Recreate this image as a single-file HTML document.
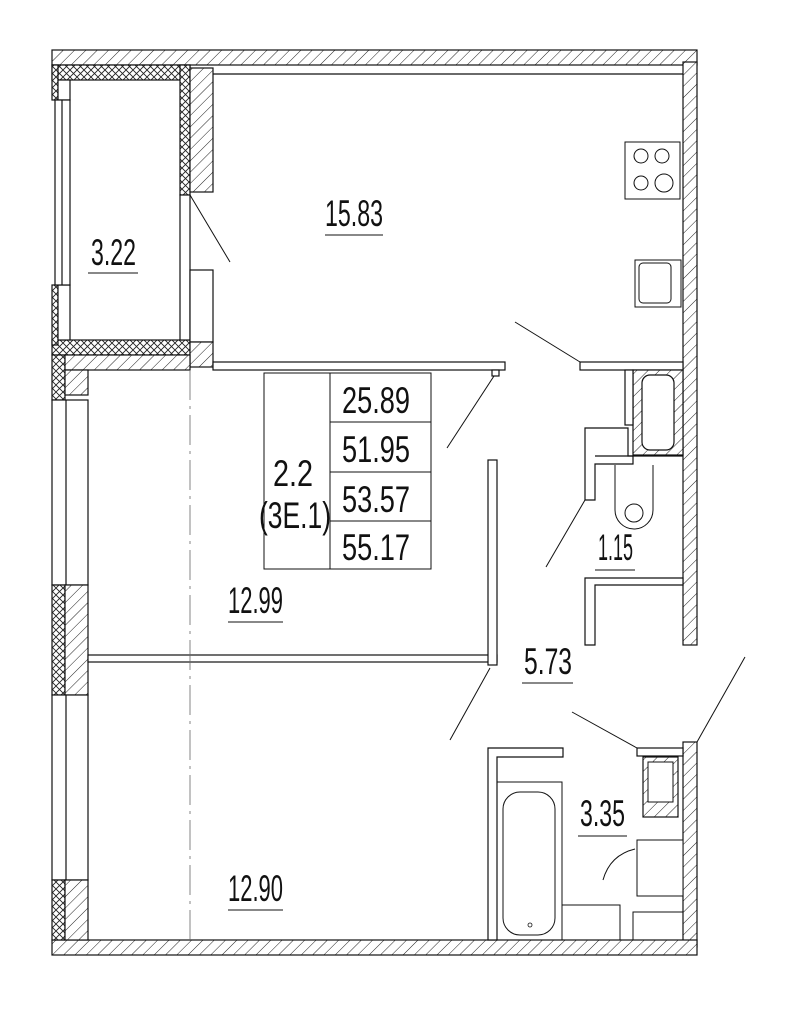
<!DOCTYPE html>
<html><head><meta charset="utf-8"><style>
html,body{margin:0;padding:0;background:#fff;}
svg{display:block;}
text{font-family:"Liberation Sans Narrow","Liberation Sans",sans-serif;font-size:37px;fill:#111;}
</style></head><body>
<svg width="800" height="1011" viewBox="0 0 800 1011" xmlns="http://www.w3.org/2000/svg">
<defs>
<pattern id="h" width="8" height="8" patternUnits="userSpaceOnUse" patternTransform="rotate(45)">
<rect width="8" height="8" fill="#fff"/><line x1="0" y1="0" x2="0" y2="8" stroke="#222" stroke-width="1"/></pattern>
<pattern id="x" width="7" height="7" patternUnits="userSpaceOnUse">
<rect width="7" height="7" fill="#fff"/><path d="M0 0L7 7M7 0L0 7" stroke="#222" stroke-width="0.9"/></pattern>
</defs>
<g stroke="#111" stroke-width="1.2">
<rect x="52" y="50" width="645" height="15" fill="url(#h)"/>
<rect x="683" y="62" width="14" height="583" fill="url(#h)"/>
<rect x="683" y="742" width="14" height="205" fill="url(#h)"/>
<rect x="52" y="940" width="645" height="15" fill="url(#h)"/>
<rect x="52" y="65" width="138" height="15" fill="url(#x)"/>
<rect x="180" y="65" width="10" height="130" fill="url(#x)"/>
<rect x="52" y="340" width="138" height="15" fill="url(#x)"/>
<rect x="52" y="65" width="6" height="35" fill="url(#x)"/>
<rect x="52" y="285" width="6" height="60" fill="url(#x)"/>
<rect x="58" y="80" width="12" height="20" fill="#fff"/>
<rect x="58" y="285" width="12" height="55" fill="#fff"/>
<rect x="55" y="100" width="15" height="185" fill="#fff"/>
<line x1="62" y1="100" x2="62" y2="285"/>
<rect x="190" y="68" width="23" height="124" fill="url(#h)"/>
<rect x="180" y="195" width="10" height="145" fill="#fff"/>
<rect x="190" y="270" width="23" height="72" fill="#fff"/>
<rect x="190" y="342" width="23" height="25" fill="url(#h)"/>
<rect x="52" y="355" width="13" height="45" fill="url(#x)"/>
<rect x="65" y="355" width="125" height="15" fill="url(#h)"/>
<rect x="65" y="370" width="23" height="25" fill="url(#h)"/>
<rect x="52" y="400" width="36" height="185" fill="#fff"/>
<line x1="66" y1="400" x2="66" y2="585"/>
<rect x="52" y="585" width="13" height="110" fill="url(#x)"/>
<rect x="65" y="585" width="23" height="110" fill="url(#h)"/>
<rect x="52" y="695" width="36" height="185" fill="#fff"/>
<line x1="66" y1="695" x2="66" y2="880"/>
<rect x="52" y="880" width="13" height="60" fill="url(#x)"/>
<rect x="65" y="880" width="23" height="60" fill="url(#h)"/>
<line x1="213" y1="74" x2="683" y2="74"/>
<rect x="213" y="362" width="292" height="8" fill="#fff"/>
<rect x="492" y="370" width="7" height="6" fill="#fff"/>
<rect x="88" y="655" width="409" height="7" fill="#fff"/>
<rect x="488" y="460" width="9" height="205" fill="#fff"/>
<rect x="580" y="362" width="103" height="8" fill="#fff"/>
<rect x="633" y="370" width="50" height="85" fill="url(#h)"/>
<rect x="642" y="375" width="32" height="75" rx="8" fill="#fff"/>
<rect x="625" y="370" width="8" height="55" fill="#fff"/>
<path d="M585 428H628V456H633V464H595V500H585Z" fill="#fff"/>
<line x1="595" y1="456" x2="683" y2="456"/>
<path d="M615 465V510A15 15 0 0 0 653 510V465" fill="none" stroke-width="1"/>
<circle cx="634" cy="513" r="9" fill="none" stroke-width="1"/>
<path d="M585 578H683V585H595V645H585Z" fill="#fff"/>
<rect x="625" y="142" width="55" height="57" fill="#fff" stroke-width="1"/>
<circle cx="641" cy="156" r="7" fill="none" stroke-width="1"/>
<circle cx="662" cy="156" r="7" fill="none" stroke-width="1"/>
<circle cx="641" cy="183" r="7" fill="none" stroke-width="1"/>
<circle cx="664" cy="183" r="9" fill="none" stroke-width="1"/>
<rect x="635" y="260" width="46" height="47" fill="#fff" stroke-width="1"/>
<rect x="639" y="263" width="32" height="40" rx="4" fill="none" stroke-width="1"/>
<path d="M488 748H563V757H497V940H488Z" fill="#fff"/>
<rect x="497" y="782" width="65" height="158" fill="none" stroke-width="1"/>
<rect x="503" y="792" width="52" height="143" rx="17" fill="none" stroke-width="1"/>
<circle cx="530" cy="925" r="2" fill="none" stroke-width="0.8"/>
<rect x="562" y="905" width="58" height="35" fill="none" stroke-width="1"/>
<rect x="637" y="748" width="46" height="8" fill="#fff"/>
<rect x="643" y="757" width="35" height="60" fill="url(#h)"/>
<rect x="648" y="762" width="25" height="40" fill="#fff" stroke-width="1"/>
<rect x="637" y="840" width="46" height="56" fill="#fff" stroke-width="1"/>
<rect x="633" y="912" width="50" height="28" fill="none" stroke-width="1"/>
<path d="M635 849Q610 855 603 880" fill="none" stroke-width="1"/>
<g stroke-width="1">
<line x1="190" y1="195" x2="230" y2="262"/>
<line x1="494" y1="376" x2="447" y2="448"/>
<line x1="515" y1="322" x2="580" y2="362"/>
<line x1="585" y1="500" x2="546" y2="567"/>
<line x1="490" y1="668" x2="450" y2="740"/>
<line x1="572" y1="712" x2="637" y2="748"/>
<line x1="745" y1="657" x2="697" y2="742"/>
</g>
<line x1="190" y1="370" x2="190" y2="940" stroke="#666" stroke-width="0.8" stroke-dasharray="30 6 3 6"/>
<g stroke-width="1" fill="none">
<rect x="264" y="373" width="167" height="196"/>
<line x1="330" y1="373" x2="330" y2="569"/>
<line x1="330" y1="422" x2="431" y2="422"/>
<line x1="330" y1="472" x2="431" y2="472"/>
<line x1="330" y1="521" x2="431" y2="521"/>
</g>
<g stroke-width="1">
<line x1="325" y1="235" x2="383" y2="235"/>
<line x1="88" y1="273" x2="138" y2="273"/>
<line x1="228" y1="622" x2="283" y2="622"/>
<line x1="228" y1="910" x2="283" y2="910"/>
<line x1="595" y1="570" x2="635" y2="570"/>
<line x1="522" y1="683" x2="573" y2="683"/>
<line x1="578" y1="836" x2="627" y2="836"/>
</g>
</g>
<g lengthAdjust="spacingAndGlyphs">
<text x="325" y="226" textLength="58" lengthAdjust="spacingAndGlyphs">15.83</text>
<text x="91" y="265" textLength="45" lengthAdjust="spacingAndGlyphs">3.22</text>
<text x="228" y="613" textLength="55" lengthAdjust="spacingAndGlyphs">12.99</text>
<text x="228" y="901" textLength="55" lengthAdjust="spacingAndGlyphs">12.90</text>
<text x="598" y="560" textLength="35" lengthAdjust="spacingAndGlyphs">1.15</text>
<text x="524" y="674" textLength="48" lengthAdjust="spacingAndGlyphs">5.73</text>
<text x="580" y="826" textLength="45" lengthAdjust="spacingAndGlyphs">3.35</text>
<text x="342" y="413" textLength="68" lengthAdjust="spacingAndGlyphs">25.89</text>
<text x="342" y="462" textLength="68" lengthAdjust="spacingAndGlyphs">51.95</text>
<text x="342" y="512" textLength="68" lengthAdjust="spacingAndGlyphs">53.57</text>
<text x="342" y="560" textLength="68" lengthAdjust="spacingAndGlyphs">55.17</text>
<text x="273" y="486" textLength="40" lengthAdjust="spacingAndGlyphs">2.2</text>
<text x="259" y="528" textLength="72" lengthAdjust="spacingAndGlyphs">(3E.1)</text>
</g>
</svg>
</body></html>
